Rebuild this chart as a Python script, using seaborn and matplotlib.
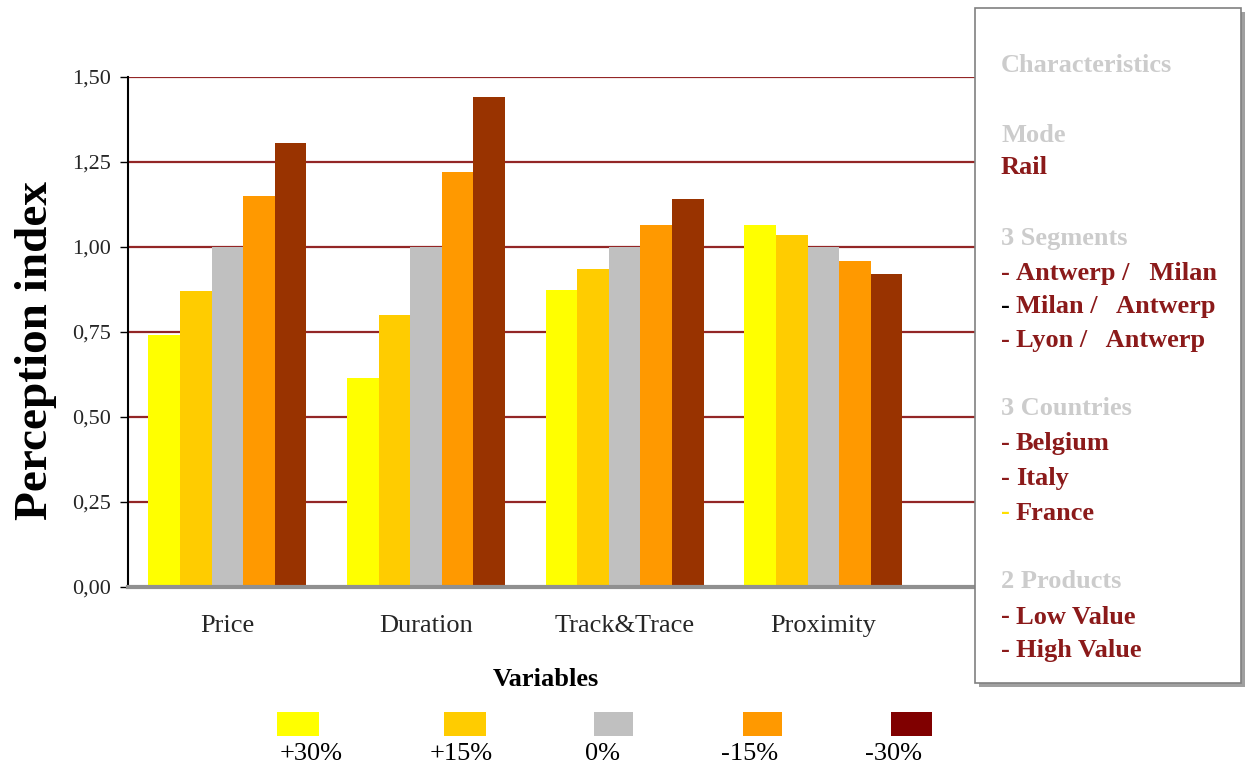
import matplotlib
matplotlib.use("Agg")
import matplotlib.pyplot as plt
import seaborn as sns
import pandas as pd
from matplotlib.patches import Rectangle

# ---- data ----
variables = ["Price", "Duration", "Track&Trace", "Proximity"]
scenarios = ["+30%", "+15%", "0%", "-15%", "-30%"]
plus30 = [0.74, 0.615, 0.875, 1.065]
plus15 = [0.87, 0.80, 0.935, 1.035]
zero = [1.00, 1.00, 1.00, 1.00]
minus15 = [1.15, 1.22, 1.065, 0.96]
minus30 = [1.305, 1.44, 1.14, 0.92]
y_ticks = [0.0, 0.25, 0.5, 0.75, 1.0, 1.25, 1.5]
y_tick_labels = ["0,00", "0,25", "0,50", "0,75", "1,00", "1,25", "1,50"]

bar_colors = ["#FFFF00", "#FFCC00", "#C0C0C0", "#FF9900", "#993300"]
legend_colors = ["#FFFF00", "#FFCC00", "#C0C0C0", "#FF9900", "#800000"]

series = [plus30, plus15, zero, minus15, minus30]
rows = []
for s, vals in zip(scenarios, series):
    for v, val in zip(variables, vals):
        rows.append({"Variable": v, "Scenario": s, "Value": val})
df = pd.DataFrame(rows)

sns.set_theme(style="white")
plt.rcParams["font.family"] = ["Liberation Serif", "DejaVu Serif"]

W, H = 1247, 769
fig = plt.figure(figsize=(W / 100, H / 100), dpi=100)
fig.patch.set_facecolor("white")

ax_l, ax_r, ax_t, ax_b = 128, 975, 77, 587
ax = fig.add_axes([ax_l / W, 1 - ax_b / H, (ax_r - ax_l) / W, (ax_b - ax_t) / H])

sns.barplot(data=df, x="Variable", y="Value", hue="Scenario",
            order=variables, hue_order=scenarios, palette=bar_colors,
            width=0.795, gap=0, saturation=1, edgecolor="none",
            linewidth=0, legend=False, ax=ax, zorder=3)

ax.set_ylim(0, 1.5)
ax.set_xlim(-0.5, 3.5 + (970 - 918) / 197.5)
ax.set_yticks(y_ticks)
ax.set_yticklabels(y_tick_labels, fontsize=16)
for yv in y_ticks[1:]:
    ax.axhline(yv, color="#800000", lw=1.6, zorder=1, alpha=0.85)

ax.set_xticks(range(len(variables)))
ax.set_xticklabels(variables, fontsize=19)
ax.set_xticks([-0.5, 0.5, 1.5, 2.5, 3.5], minor=True)
ax.tick_params(axis="x", which="major", length=0, pad=20)
ax.tick_params(axis="x", which="minor", length=5, width=1, direction="out", color="black")
ax.tick_params(axis="y", length=6, width=1, direction="out", color="black", left=True, pad=6)
ax.set_xlabel("")
ax.set_ylabel("")

for side in ["top", "right"]:
    ax.spines[side].set_visible(False)
ax.spines["left"].set_color("black")
ax.spines["left"].set_linewidth(1.5)
ax.spines["bottom"].set_color("#909090")
ax.spines["bottom"].set_linewidth(3)
ax.spines["bottom"].set_zorder(4)

# axis titles
fig.text(36 / W, 1 - 350 / H, "Perception index", rotation=90, fontsize=34,
         fontweight="bold", ha="center", va="center", color="black")
fig.text(546 / W, 1 - 680 / H, "Variables", fontsize=19, fontweight="bold",
         ha="center", va="center", color="black")

# legend (swatches above labels)
sw_x = [(277, 319), (444, 486), (594, 633), (743, 782), (891, 932)]
lab_cx = [311, 461, 603, 750, 894]
for (x0, x1), c, lab, cx in zip(sw_x, legend_colors, scenarios, lab_cx):
    fig.add_artist(Rectangle((x0 / W, 1 - 736 / H), (x1 - x0) / W, 24 / H,
                             transform=fig.transFigure, facecolor=c,
                             edgecolor="none"))
    fig.text(cx / W, 1 - 754 / H, lab, fontsize=19, ha="center", va="center",
             color="black")

# right info box
bx0, bx1, by0, by1 = 975, 1241, 8, 683
fig.add_artist(Rectangle(((bx0 + 4) / W, 1 - (by1 + 4) / H), (bx1 - bx0) / W,
                         (by1 - by0) / H, transform=fig.transFigure,
                         facecolor="#A0A0A0", edgecolor="none", zorder=5))
fig.add_artist(Rectangle((bx0 / W, 1 - by1 / H), (bx1 - bx0) / W,
                         (by1 - by0) / H, transform=fig.transFigure,
                         facecolor="white", edgecolor="#808080", lw=1.2, zorder=6))

head_c = "#CCCCCC"
item_c = "#8B1A1A"
tx = 1001
fs_box = 19
box_lines = [
    (65, "Characteristics", head_c, None),
    (135, "Mode", head_c, None),
    (168, "Rail", item_c, None),
    (238, "3 Segments", head_c, None),
    (273, "Antwerp /   Milan", item_c, item_c),
    (307, "Milan /   Antwerp", item_c, "black"),
    (341, "Lyon /   Antwerp", item_c, item_c),
    (409, "3 Countries", head_c, None),
    (444, "Belgium", item_c, item_c),
    (479, "Italy", item_c, item_c),
    (513, "France", item_c, "#FFE000"),
    (582, "2 Products", head_c, None),
    (617, "Low Value", item_c, item_c),
    (651, "High Value", item_c, item_c),
]
for y, txt, c, dash_c in box_lines:
    if dash_c is None:
        fig.text(tx / W, 1 - y / H, txt, fontsize=fs_box, fontweight="bold",
                 color=c, ha="left", va="center", zorder=7)
    else:
        fig.text(tx / W, 1 - y / H, "-", fontsize=fs_box, fontweight="bold",
                 color=dash_c, ha="left", va="center", zorder=7)
        fig.text((tx + 15) / W, 1 - y / H, txt, fontsize=fs_box,
                 fontweight="bold", color=c, ha="left", va="center", zorder=7)

fig.savefig("out.png", dpi=100, facecolor="white")
